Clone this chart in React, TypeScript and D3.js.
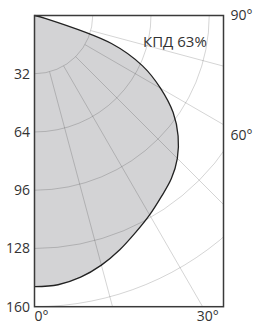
import React, { useEffect, useRef } from 'react';
import * as d3 from 'd3';

// light distribution curve, angle from nadir (deg) -> intensity
const angles = [0, 5, 10, 15, 20, 25, 30, 35, 40, 45, 50, 55, 60, 65, 70, 75, 80, 85, 90];
const intensity = [149, 148.5, 146, 142, 137, 131.5, 126.5, 121.5, 117, 111, 103, 93, 80, 65.5, 45, 6, 0, 0, 0];

const radialTicks = [32, 64, 96, 128, 160];
const gridCircles = [32, 64, 96, 128, 160, 192];
const gridAngles = [15, 30, 45, 60, 75];
const angleLabels = [0, 30, 60, 90];
const efficiencyLabel = 'КПД 63%';

const W = 253;
const H = 325;

const App = () => {
  const svgRef = useRef(null);

  useEffect(() => {
    const svg = d3.select(svgRef.current);
    svg.selectAll('*').remove();

    const left = 34.5, top = 15.5, right = 223.5, bottom = 306.7;
    const font = '"Open Sans", sans-serif';
    const r = d3.scaleLinear().domain([0, 160]).range([0, bottom - top]);
    const toRad = (a: number) => Math.PI - (a * Math.PI) / 180; // 0° points down

    svg.append('defs').append('clipPath').attr('id', 'frame')
      .append('rect')
      .attr('x', left).attr('y', top)
      .attr('width', right - left).attr('height', bottom - top);

    const g = svg.append('g').attr('transform', `translate(${left},${top})`);

    // filled curve
    const pts = angles.map((a, i) => [a, intensity[i]]);
    const line = d3.lineRadial()
      .angle(d => toRad(d[0]))
      .radius(d => r(d[1]))
      .curve(d3.curveCatmullRom);

    g.append('path')
      .attr('d', line(pts) + 'L0,0Z')
      .attr('fill', '#d3d3d5')
      .attr('stroke', 'none');

    // grid
    const grid = svg.append('g').attr('clip-path', 'url(#frame)')
      .append('g').attr('transform', `translate(${left},${top})`)
      .attr('fill', 'none')
      .attr('stroke', '#000')
      .attr('stroke-opacity', 0.21)
      .attr('stroke-width', 0.8);

    grid.selectAll('circle')
      .data(gridCircles)
      .enter().append('circle')
      .attr('r', d => r(d));

    grid.selectAll('line')
      .data(gridAngles)
      .enter().append('line')
      .attr('x1', d => r(32) * Math.sin(d * Math.PI / 180))
      .attr('y1', d => r(32) * Math.cos(d * Math.PI / 180))
      .attr('x2', d => r(400) * Math.sin(d * Math.PI / 180))
      .attr('y2', d => r(400) * Math.cos(d * Math.PI / 180));

    // curve outline
    g.append('path')
      .attr('d', line(pts))
      .attr('fill', 'none')
      .attr('stroke', '#222')
      .attr('stroke-width', 1.3);

    // frame
    svg.append('rect')
      .attr('x', left).attr('y', top)
      .attr('width', right - left).attr('height', bottom - top)
      .attr('fill', 'none')
      .attr('stroke', '#3a3a3a')
      .attr('stroke-width', 1.5);

    // radial labels
    svg.selectAll('.rlabel')
      .data(radialTicks)
      .enter().append('text')
      .attr('class', 'rlabel')
      .attr('x', 30)
      .attr('y', d => top + r(d))
      .attr('dy', '0.35em')
      .attr('text-anchor', 'end')
      .attr('font-family', font)
      .attr('font-size', 14)
      .attr('fill', '#333')
      .text(d => d);

    // angle labels
    const off = 9;
    svg.selectAll('.alabel')
      .data(angleLabels)
      .enter().append('text')
      .attr('class', 'alabel')
      .attr('x', d => {
        if (d < 45) return left + (bottom + off - top) * Math.tan(d * Math.PI / 180);
        return right + 18;
      })
      .attr('y', d => {
        if (d < 45) return bottom + off;
        const rad = d * Math.PI / 180;
        return top + (right + 18 - left) * Math.cos(rad) / Math.sin(rad);
      })
      .attr('dy', '0.35em')
      .attr('text-anchor', d => (d === 0 ? 'start' : 'middle'))
      .attr('font-family', font)
      .attr('font-size', 14)
      .attr('fill', '#333')
      .text(d => `${d}°`);

    svg.append('text')
      .attr('x', 143)
      .attr('y', 46.5)
      .attr('font-family', font)
      .attr('font-size', 15)
      .attr('fill', '#333')
      .text(efficiencyLabel);
  }, []);

  return (
    <svg ref={svgRef} width={W} height={H}
      style={{ position: 'absolute', left: 0, top: 0, background: '#fff' }} />
  );
};

export default App;
